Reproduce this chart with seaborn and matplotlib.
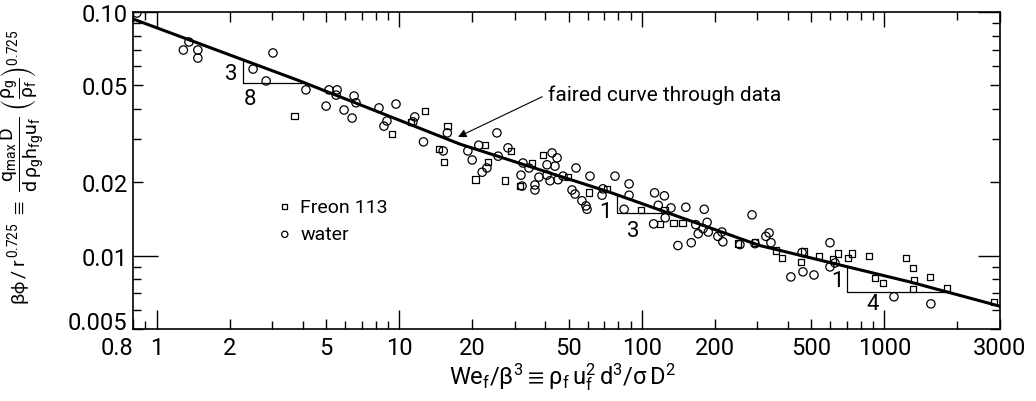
import numpy as np
import pandas as pd
import matplotlib
matplotlib.use("Agg")
import matplotlib.pyplot as plt
import seaborn as sns
from matplotlib.ticker import FixedLocator, FixedFormatter, NullFormatter

# Freon 113 data (squares)
freon_we = [3.71, 9.35, 12.8, 11.2, 14.6, 15.3, 15.8, 22.6, 28.9, 23.2, 20.6, 27.3, 35.3, 31.5,
            39.2, 49.7, 60.6, 72.0, 99.3, 124, 119, 135, 147, 249, 293, 358, 379, 467, 454, 538,
            615, 644, 708, 736, 865, 1228, 916, 988, 1313, 1325, 1313, 1543, 1813, 2832]
freon_phi = [0.0374, 0.0316, 0.0393, 0.0354, 0.0274, 0.0242, 0.0340, 0.0284, 0.0269, 0.0242,
             0.0205, 0.0203, 0.0240, 0.0193, 0.0259, 0.0210, 0.0182, 0.0188, 0.0154, 0.0154,
             0.0135, 0.0136, 0.0136, 0.0112, 0.0113, 0.0105, 0.0098, 0.0104, 0.00942, 0.00997,
             0.00968, 0.0102, 0.0098, 0.0102, 0.00997, 0.0098, 0.00811, 0.00773, 0.00891,
             0.00794, 0.0073, 0.00818, 0.00736, 0.00646]

# water data (circles)
water_we = [0.83, 1.29, 1.36, 1.48, 1.48, 2.50, 2.83, 3.02, 4.13, 5.14, 5.55, 5.50, 5.00, 5.93,
            6.40, 6.52, 6.64, 8.26, 9.71, 8.91, 8.66, 11.6, 11.4, 12.6, 15.2, 15.8, 25.3, 21.3,
            19.2, 20.0, 28.1, 25.6, 23.0, 22.0, 32.4, 34.3, 31.8, 32.1, 36.3, 36.3, 37.7, 42.7,
            44.8, 40.7, 43.9, 40.7, 41.9, 45.2, 47.4, 53.6, 61.2, 51.6, 53.1, 56.7, 58.9, 59.5,
            68.6, 69.2, 77.6, 88.7, 88.7, 84.6, 113, 124, 117, 132, 125, 112, 152, 181, 186, 167,
            179, 188, 171, 206, 214, 216, 160, 141, 293, 285, 325, 335, 341, 254, 597, 458, 412,
            462, 513, 626, 597, 1096, 1556]
water_phi = [0.099, 0.0698, 0.0753, 0.0698, 0.0647, 0.0583, 0.0521, 0.0679, 0.0479, 0.0479,
             0.0479, 0.0456, 0.0411, 0.0396, 0.0367, 0.0452, 0.0424, 0.0404, 0.0419, 0.0357,
             0.0340, 0.0371, 0.0354, 0.0293, 0.0269, 0.0319, 0.0319, 0.0284, 0.0269, 0.0247,
             0.0277, 0.0256, 0.0229, 0.0220, 0.0240, 0.0229, 0.0214, 0.0193, 0.0195, 0.0186,
             0.0210, 0.0264, 0.0252, 0.0236, 0.0233, 0.0214, 0.0203, 0.0205, 0.0212, 0.0229,
             0.0212, 0.0186, 0.0179, 0.0168, 0.0160, 0.0155, 0.0177, 0.0188, 0.0212, 0.0197,
             0.0177, 0.0155, 0.0181, 0.0176, 0.0161, 0.0157, 0.0143, 0.0135, 0.0158, 0.0155,
             0.0137, 0.0134, 0.0129, 0.0125, 0.0123, 0.0120, 0.0125, 0.0114, 0.0113, 0.0110,
             0.0112, 0.0147, 0.0120, 0.0124, 0.0113, 0.0111, 0.0113, 0.0103, 0.00818, 0.00858,
             0.00833, 0.00933, 0.00899, 0.00678, 0.00634]

# faired curve through data
curve_we = [0.8, 3.9, 17.8, 74.0, 307, 1276, 3000]
curve_phi = [0.0936, 0.0521, 0.0287, 0.0182, 0.0110, 0.0078, 0.0062]

# slope triangles: x start, x end, rise label, run label
slopes = [(2.27, 4.10, '3', '8'), (79.1, 128, '1', '3'), (702, 1813, '1', '4')]
slope_label_pos = [((2.03, 0.0557), (2.43, 0.0440)),
                   ((70.6, 0.0152), (92.1, 0.0127)),
                   ((638, 0.00787), (898, 0.00634))]

x_ticks = [0.8, 1, 2, 5, 10, 20, 50, 100, 200, 500, 1000, 3000]
x_ticklabels = ['0.8', '1', '2', '5', '10', '20', '50', '100', '200', '500', '1000', '3000']
y_ticks = [0.005, 0.01, 0.02, 0.05, 0.10]
y_ticklabels = ['0.005', '0.01', '0.02', '0.05', '0.10']
decades = [0.01, 0.1, 1, 10, 100, 1000]

sns.set_style("ticks")
plt.rcParams["font.family"] = ["Roboto", "DejaVu Sans"]
plt.rcParams["mathtext.fontset"] = "dejavusans"
plt.rcParams["mathtext.default"] = "regular"
for key in ["text.color", "axes.labelcolor", "xtick.color", "ytick.color", "axes.edgecolor"]:
    plt.rcParams[key] = "black"

fig = plt.figure(figsize=(10.36, 4.02), dpi=100)
ax = fig.add_axes([0.1284, 0.1791, 0.8369, 0.7886])

freon = pd.DataFrame({"We": freon_we, "phi": freon_phi})
water = pd.DataFrame({"We": water_we, "phi": water_phi})

sns.scatterplot(data=freon, x="We", y="phi", marker="s", s=22, facecolor="none",
                edgecolor="black", linewidth=0.9, label="Freon 113", ax=ax, zorder=3)
sns.scatterplot(data=water, x="We", y="phi", marker="o", s=36, facecolor="none",
                edgecolor="black", linewidth=0.9, label="water", ax=ax, zorder=3)
sns.lineplot(x=curve_we, y=curve_phi, color="black", linewidth=2.2, sort=False,
             estimator=None, ax=ax, zorder=4)

ax.set_xscale("log")
ax.set_yscale("log")
ax.set_xlim(0.8, 3000)
ax.set_ylim(0.005, 0.1)


def curve_at(x):
    return 10 ** np.interp(np.log10(x), np.log10(curve_we), np.log10(curve_phi))


for (x1, x2, rise, run), (p_rise, p_run) in zip(slopes, slope_label_pos):
    y1, y2 = curve_at(x1), curve_at(x2)
    ax.plot([x1, x1, x2], [y1, y2, y2], color="black", lw=0.9, zorder=2)
    ax.text(*p_rise, rise, fontsize=16, ha="center", va="center")
    ax.text(*p_run, run, fontsize=16, ha="center", va="center")

ax.annotate("faired curve through data", xy=(17.5, 0.0307), xytext=(41.1, 0.0461),
            ha="left", va="center", fontsize=15,
            arrowprops=dict(arrowstyle="-|>", color="black", lw=0.8, mutation_scale=12,
                            relpos=(0, 0.5), shrinkA=2, shrinkB=0))

# ticks
x_minor = [m * 10.0 ** e for e in range(-1, 4) for m in range(2, 10)
           if 0.8 < m * 10.0 ** e < 3000 and m * 10.0 ** e not in x_ticks]
y_minor = [m * 10.0 ** e for e in range(-3, -1) for m in range(2, 10)
           if 0.005 < m * 10.0 ** e < 0.1 and m * 10.0 ** e not in y_ticks]
ax.xaxis.set_major_locator(FixedLocator(x_ticks))
ax.xaxis.set_major_formatter(FixedFormatter(x_ticklabels))
ax.xaxis.set_minor_locator(FixedLocator(x_minor))
ax.xaxis.set_minor_formatter(NullFormatter())
ax.yaxis.set_major_locator(FixedLocator(y_ticks))
ax.yaxis.set_major_formatter(FixedFormatter(y_ticklabels))
ax.yaxis.set_minor_locator(FixedLocator(y_minor))
ax.yaxis.set_minor_formatter(NullFormatter())

ax.tick_params(which="both", direction="in", top=True, right=True, width=1.0,
               color="black", labelsize=17)
ax.tick_params(axis="x", pad=5)
ax.tick_params(axis="y", pad=4)
ax.tick_params(which="major", length=7)
ax.tick_params(which="minor", length=6)

for tick, val in zip(ax.xaxis.get_major_ticks(), x_ticks):
    if val in decades:
        tick.tick1line.set_markersize(14)
        tick.tick2line.set_markersize(11)
    if val == 0.8:
        tick.label1.set_horizontalalignment("right")
for tick, val in zip(ax.yaxis.get_major_ticks(), y_ticks):
    if val in decades:
        tick.tick1line.set_markersize(18)
        tick.tick2line.set_markersize(16)
    if val == 0.005:
        tick.label1.set_verticalalignment("baseline")

for sp in ax.spines.values():
    sp.set_linewidth(1.2)
    sp.set_color("black")

ax.set_xlabel(r"$We_f/\beta^3 \equiv \rho_f\, u_f^2\, d^3/\sigma\, D^2$", fontsize=17)
ax.xaxis.set_label_coords(0.495, -0.10)
ax.set_ylabel(r"$\beta\phi\,/\,r^{\,0.725} \;\equiv\; \dfrac{q_{max}\,D}{d\,\rho_g h_{fg} u_f}"
              r"\;\left(\dfrac{\rho_g}{\rho_f}\right)^{0.725}$", fontsize=14)
ax.yaxis.set_label_coords(-0.100, 0.514)

handles, labels = ax.get_legend_handles_labels()
ax.legend(handles, labels, loc="center left", bbox_to_anchor=(0.1436, 0.342),
          frameon=False, markerscale=0.75, handletextpad=0.3, labelspacing=0.5,
          handlelength=1.0, fontsize=14)

fig.savefig("out.png", dpi=100, facecolor="white")
